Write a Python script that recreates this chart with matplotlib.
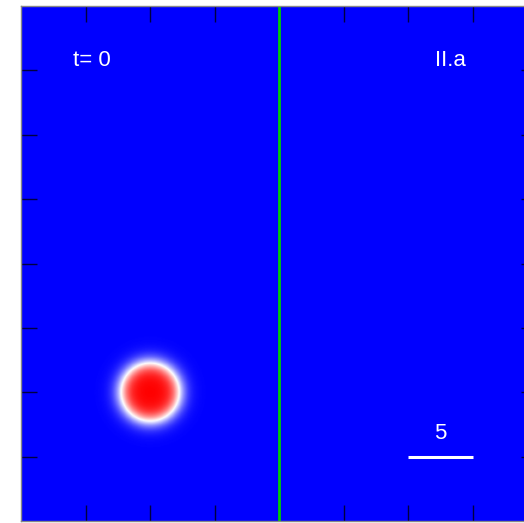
import numpy as np
import matplotlib
matplotlib.use('Agg')
from matplotlib import pyplot as plt

plt.rcParams['font.family'] = ['Liberation Sans', 'DejaVu Sans']

# domain and ticks
xlim = [-20, 20]
ylim = [-20, 20]
ticks = [-15, -10, -5, 0, 5, 10, 15]

# drop: centre, radius, interface width
drop_center = [-10.0, -10.0]
drop_radius = 2.25
drop_width = 0.75

# wall position
wall_x = 0.0

# labels
time_label = 't= 0'
case_label = 'II.a'
scale_len = 5
scale_start = [10.0, -15.0]

# phase field: +1 inside the drop, -1 outside
n = 600
x = np.linspace(xlim[0], xlim[1], n)
y = np.linspace(ylim[0], ylim[1], n)
X, Y = np.meshgrid(x, y)
r = np.sqrt((X - drop_center[0])**2 + (Y - drop_center[1])**2)
phi = np.tanh((drop_radius - r) / drop_width)

fig = plt.figure(figsize=(5.24, 5.23), dpi=100)
ax = fig.add_axes([21/524, 2/523, 516/524, 515/523])

ax.imshow(phi, extent=xlim + ylim, origin='lower', cmap='bwr',
          vmin=-1, vmax=1, interpolation='bilinear', aspect='auto')
ax.axvline(wall_x, color='#00cc00', lw=2)

ax.text(-14.5, 15.8, time_label, color='white', fontsize=16,
        ha='center', va='center')
ax.text(13.3, 15.8, case_label, color='white', fontsize=16,
        ha='center', va='center')

# scale bar
ax.plot([scale_start[0], scale_start[0] + scale_len],
        [scale_start[1], scale_start[1]], color='white', lw=2.2,
        solid_capstyle='butt')
ax.text(scale_start[0] + scale_len/2, scale_start[1] + 1.8, str(scale_len),
        color='white', fontsize=16, ha='center', va='center')

ax.set_xlim(xlim)
ax.set_ylim(ylim)
ax.set_xticks(ticks)
ax.set_yticks(ticks)
ax.tick_params(direction='in', length=11.5, width=1, color='#000040',
               top=True, right=True, labelbottom=False, labelleft=False)
for s in ax.spines.values():
    s.set_color('#888888')
    s.set_linewidth(1)

fig.savefig('out.png', dpi=100)
